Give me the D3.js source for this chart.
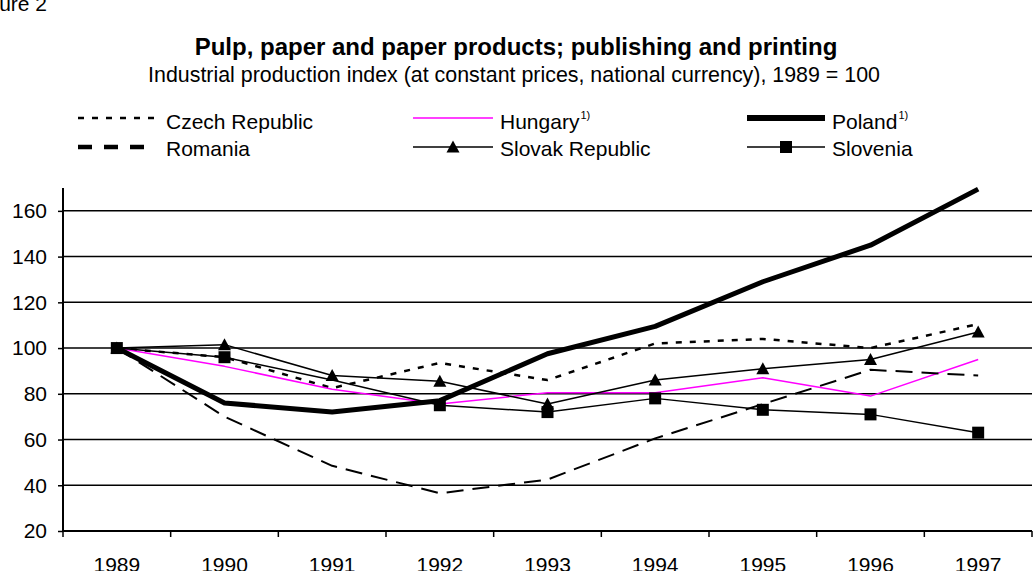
<!DOCTYPE html>
<html>
<head>
<meta charset="utf-8">
<script src="https://cdn.jsdelivr.net/npm/d3@7/dist/d3.min.js"></script>
<style>
  html, body { margin: 0; padding: 0; background: #fff; }
  svg { display: block; font-family: "Liberation Sans", Arial, sans-serif; }
</style>
</head>
<body>
<svg id="chart" width="1033" height="571"></svg>
<script>
// ---- data ----
const years = ["1989", "1990", "1991", "1992", "1993", "1994", "1995", "1996", "1997"];
const czech    = [100, 96, 82.5, 93.5, 86, 102, 104, 100, 110.5];
const hungary  = [100, 92, 82, 75.5, 80.5, 80.5, 87, 79, 95];
const poland   = [100, 76, 72, 77, 97.5, 109.5, 129, 145, 169.5];
const romania  = [100, 70, 48.5, 36.5, 42.5, 60.5, 75.5, 90.5, 88];
const slovak   = [100, 101.5, 88, 85.5, 75.5, 86, 91, 95, 107];
const slovenia = [100, 96, 86, 75, 72, 78, 73, 71, 63];
const sloveniaNoMarker = ["1991"];
const yTicks = [20, 40, 60, 80, 100, 120, 140, 160];
const seriesNames = ["Czech Republic", "Hungary", "Poland", "Romania", "Slovak Republic", "Slovenia"];
const footnoted = ["Hungary", "Poland"];

const svg = d3.select("#chart");
const pLeft = 63, pRight = 1032, pTop = 188, pBottom = 531;

const x = d3.scaleBand().domain(years).range([pLeft, pRight]).padding(0);
const y = d3.scaleLinear().domain([20, 170]).range([pBottom, pTop]);
const cx = d => x(d) + x.bandwidth() / 2;

// titles
svg.append("text").attr("x", 47).attr("y", 11).attr("text-anchor", "end")
  .attr("font-size", 21).text("Figure 2");
svg.append("text").attr("x", 516).attr("y", 55).attr("text-anchor", "middle")
  .attr("font-size", 24).attr("font-weight", "bold")
  .text("Pulp, paper and paper products; publishing and printing");
svg.append("text").attr("x", 514).attr("y", 82).attr("text-anchor", "middle")
  .attr("font-size", 21.4)
  .text("Industrial production index (at constant prices, national currency), 1989 = 100");

// gridlines
svg.append("g").selectAll("line").data(yTicks.filter(t => t > 20)).join("line")
  .attr("x1", pLeft).attr("x2", pRight)
  .attr("y1", d => y(d)).attr("y2", d => y(d))
  .attr("stroke", "#000").attr("stroke-width", 1.5);

// y axis
const yAxis = d3.axisLeft(y).tickValues(yTicks).tickSize(5).tickPadding(11);
const gy = svg.append("g").attr("transform", `translate(${pLeft},0)`).call(yAxis);
gy.select(".domain").remove();
gy.selectAll(".tick line").attr("stroke", "#000").attr("stroke-width", 1.5);
gy.selectAll(".tick text").attr("font-size", 21).attr("fill", "#000")
  .attr("font-family", "Liberation Sans, Arial, sans-serif");
svg.append("line").attr("x1", pLeft).attr("x2", pLeft).attr("y1", pTop).attr("y2", pBottom)
  .attr("stroke", "#000").attr("stroke-width", 2);

// x axis
const xAxis = d3.axisBottom(x).tickSize(0).tickPadding(0);
const gx = svg.append("g").attr("transform", `translate(0,${pBottom})`).call(xAxis);
gx.select(".domain").remove();
gx.selectAll(".tick text").attr("font-size", 21).attr("fill", "#000")
  .attr("dy", null).attr("y", 41)
  .attr("font-family", "Liberation Sans, Arial, sans-serif");
svg.append("line").attr("x1", pLeft).attr("x2", pRight).attr("y1", pBottom).attr("y2", pBottom)
  .attr("stroke", "#000").attr("stroke-width", 2);
svg.append("g").selectAll("line").data(years.concat(["end"])).join("line")
  .attr("x1", (d, i) => pLeft + i * x.bandwidth()).attr("x2", (d, i) => pLeft + i * x.bandwidth())
  .attr("y1", pBottom).attr("y2", pBottom + 6)
  .attr("stroke", "#000").attr("stroke-width", 1.5);

// series styles
const styles = {
  "Czech Republic": { data: czech, color: "#000", width: 2.5, dash: "6,8", marker: null, lw: 2.7, ldash: "6,8" },
  "Hungary": { data: hungary, color: "#ff00ff", width: 1.5, dash: null, marker: null, lw: 1.5, ldash: null },
  "Poland": { data: poland, color: "#000", width: 5, dash: null, marker: null, lw: 6, ldash: null },
  "Romania": { data: romania, color: "#000", width: 2, dash: "17,9", marker: null, lw: 4.5, ldash: "14,12" },
  "Slovak Republic": { data: slovak, color: "#000", width: 1.5, dash: null, marker: "tri", lw: 1.5, ldash: null },
  "Slovenia": { data: slovenia, color: "#000", width: 1.5, dash: null, marker: "sq", lw: 1.5, ldash: null }
};
const triPath = "M0,-6.5L6.5,5.5L-6.5,5.5Z";
const sqPath = "M-6,-6H6V6H-6Z";

const line = d3.line().x(d => cx(d.year)).y(d => y(d.v));
const drawOrder = ["Czech Republic", "Hungary", "Romania", "Slovak Republic", "Slovenia", "Poland"];
drawOrder.forEach(name => {
  const s = styles[name];
  const pts = years.map((yr, i) => ({ year: yr, v: s.data[i] }));
  svg.append("path").datum(pts).attr("d", line)
    .attr("fill", "none").attr("stroke", s.color).attr("stroke-width", s.width)
    .attr("stroke-dasharray", s.dash).attr("stroke-linejoin", "round");
  if (s.marker) {
    const mpts = name === "Slovenia" ? pts.filter(p => !sloveniaNoMarker.includes(p.year)) : pts;
    svg.append("g").selectAll("path").data(mpts).join("path")
      .attr("transform", d => `translate(${cx(d.year)},${y(d.v)})`)
      .attr("d", s.marker === "tri" ? triPath : sqPath)
      .attr("fill", "#000");
  }
});

// legend
const legCols = [{ x1: 78, x2: 162, tx: 166 }, { x1: 413, x2: 493, tx: 500 }, { x1: 747, x2: 825, tx: 832 }];
const legRows = [{ ly: 118, ty: 129 }, { ly: 147, ty: 156 }];
seriesNames.forEach((name, i) => {
  const s = styles[name];
  const c = legCols[i % 3], r = legRows[Math.floor(i / 3)];
  const x2 = name === "Romania" ? 150 : c.x2;
  const g = svg.append("g");
  g.append("line").attr("x1", c.x1).attr("x2", x2).attr("y1", r.ly).attr("y2", r.ly)
    .attr("stroke", s.color).attr("stroke-width", s.lw).attr("stroke-dasharray", s.ldash);
  if (s.marker) {
    g.append("path").attr("transform", `translate(${(c.x1 + c.x2) / 2},${r.ly})`)
      .attr("d", s.marker === "tri" ? triPath : sqPath).attr("fill", "#000");
  }
  const t = g.append("text").attr("x", c.tx).attr("y", r.ty).attr("font-size", 21).text(name);
  if (footnoted.includes(name)) {
    t.append("tspan").attr("font-size", 11).attr("dx", 1).attr("dy", -10).text("1)");
  }
});
</script>
</body>
</html>
